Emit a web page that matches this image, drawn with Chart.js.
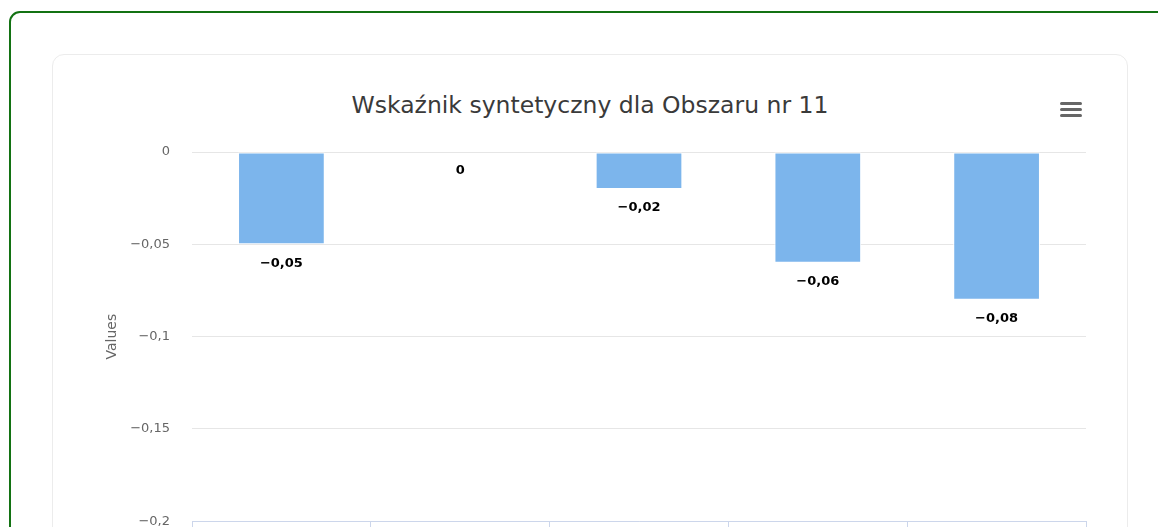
<!DOCTYPE html>
<html>
<head>
<meta charset="utf-8">
<script src="https://cdn.jsdelivr.net/npm/chart.js@4.4.1/dist/chart.umd.min.js"></script>
<style>
  html, body { margin: 0; padding: 0; width: 1158px; height: 527px; overflow: hidden; background: #fff; font-family: "DejaVu Sans", sans-serif; }
  #outer { position: absolute; left: 9px; top: 11px; width: 1200px; height: 600px; border: 2px solid #137213; border-radius: 11px; box-sizing: border-box; }
  #card { position: absolute; left: 52px; top: 54px; width: 1076px; height: 600px; border: 1px solid #ececec; border-radius: 12px; box-sizing: border-box; }
  #title { position: absolute; left: 52px; width: 1076px; top: 90px; text-align: center; font-size: 23.5px; line-height: 30px; color: #3a3a3a; white-space: nowrap; }
  #menu { position: absolute; left: 1060px; top: 102px; width: 22px; height: 16px; }
  #menu div { height: 3px; background: #666; border-radius: 2px; margin-bottom: 3px; }
  #wrap { position: absolute; left: 52px; top: 54px; width: 1076px; height: 497px; }
</style>
</head>
<body>
<div id="outer"></div>
<div id="card"></div>
<div id="title">Wskaźnik syntetyczny dla Obszaru nr 11</div>
<div id="menu"><div></div><div></div><div></div></div>
<div id="wrap"><canvas id="c"></canvas></div>
<script>
const categories = ["1", "2", "3", "4", "5"];
const values = [-0.05, 0, -0.02, -0.06, -0.08];
const yTicks = [0, -0.05, -0.1, -0.15, -0.2];
const axisTitle = "Values";

function fmt(v) {
  const r = Math.round(v * 1000) / 1000;
  if (r === 0) return "0";
  return String(r).replace("-", "\u2212").replace(".", ",");
}

const labelPlugin = {
  id: "barLabels",
  afterDatasetsDraw(chart) {
    const ctx = chart.ctx;
    const meta = chart.getDatasetMeta(0);
    ctx.save();
    ctx.font = "bold 13px 'DejaVu Sans', sans-serif";
    ctx.textAlign = "center";
    ctx.textBaseline = "middle";
    meta.data.forEach((bar, i) => {
      const v = values[i];
      const y = chart.scales.y.getPixelForValue(v) + 19;
      const txt = fmt(v);
      ctx.lineWidth = 3;
      ctx.strokeStyle = "#ffffff";
      ctx.lineJoin = "round";
      ctx.strokeText(txt, bar.x, y);
      ctx.fillStyle = "#000000";
      ctx.fillText(txt, bar.x, y);
    });
    ctx.restore();
  }
};

new Chart(document.getElementById("c"), {
  type: "bar",
  data: {
    labels: categories,
    datasets: [{
      data: values,
      backgroundColor: "#7cb5ec",
      borderColor: "#ffffff",
      borderWidth: 1,
      borderSkipped: false,
      categoryPercentage: 1,
      barPercentage: 0.485
    }]
  },
  options: {
    responsive: true,
    maintainAspectRatio: false,
    animation: false,
    events: [],
    layout: { padding: { left: 50, top: 98, right: 42, bottom: 0 } },
    plugins: { legend: { display: false }, tooltip: { enabled: false }, title: { display: false } },
    scales: {
      x: {
        offset: true,
        ticks: { display: false },
        border: { display: true, color: "#ccd6eb", width: 1 },
        grid: { offset: true, drawOnChartArea: false, drawTicks: true, tickLength: 10, color: "#ccd6eb" },
        afterFit(s) { s.height = 20; }
      },
      y: {
        min: -0.2,
        max: 0,
        afterBuildTicks(s) { s.ticks = yTicks.map(v => ({ value: v })); },
        ticks: {
          padding: 22,
          color: "#666666",
          font: { family: "'DejaVu Sans', sans-serif", size: 13 },
          callback: (v) => fmt(v)
        },
        border: { display: false },
        grid: { color: "#e6e6e6", drawTicks: false },
        title: { display: true, text: axisTitle, color: "#666666", font: { family: "'DejaVu Sans', sans-serif", size: 14 }, padding: { top: 2, bottom: 0 } },
        afterFit(s) { s.width = 90; }
      }
    }
  },
  plugins: [labelPlugin]
});
</script>
</body>
</html>
